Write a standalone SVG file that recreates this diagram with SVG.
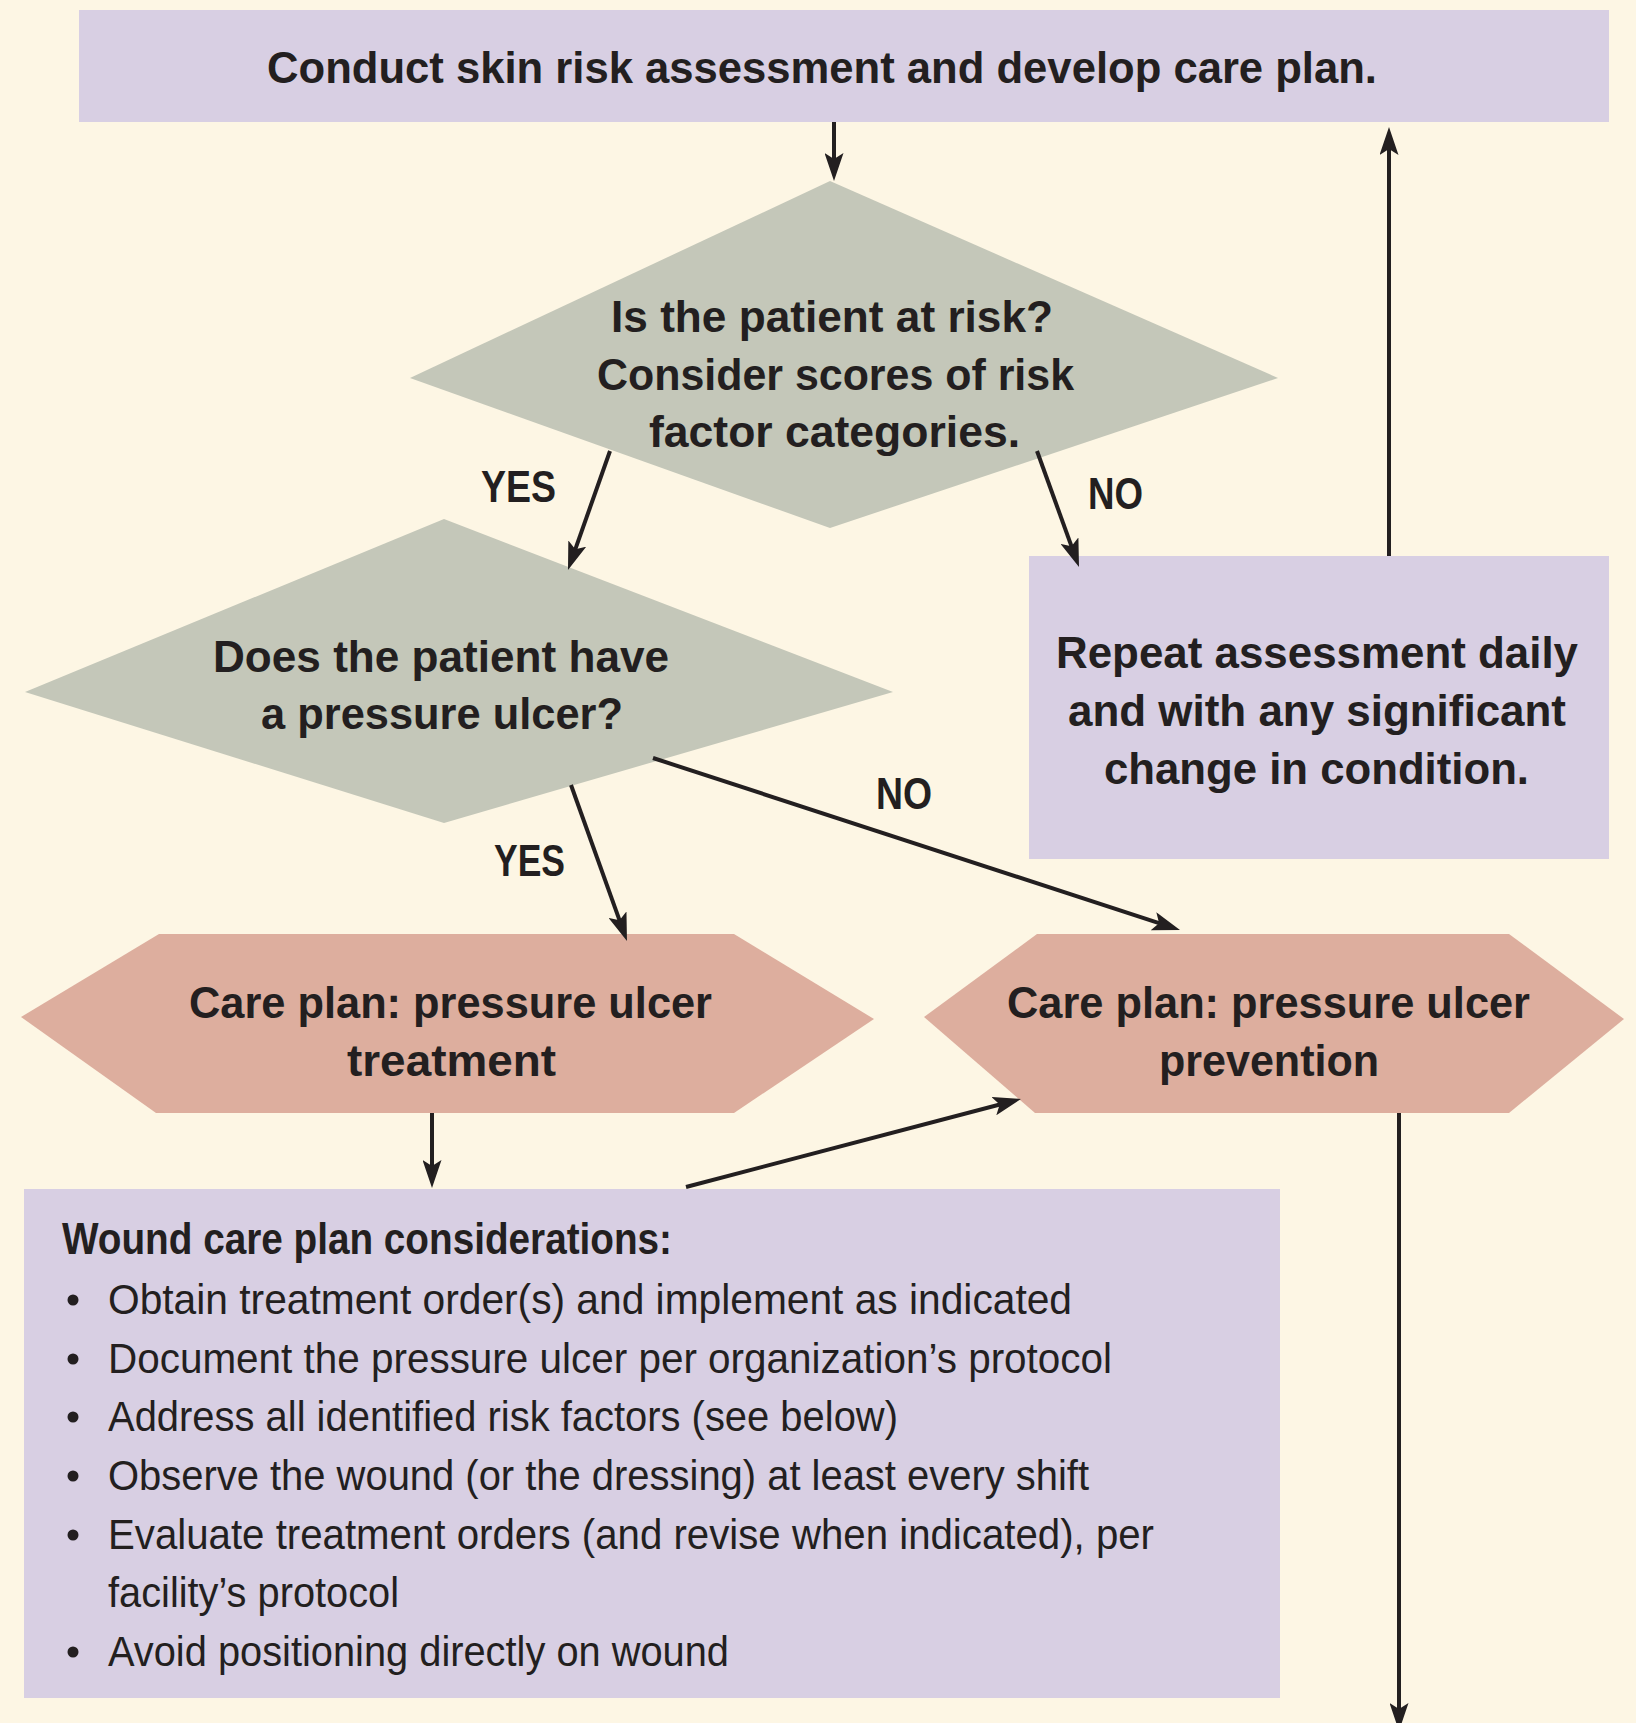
<svg xmlns="http://www.w3.org/2000/svg" width="1636" height="1723" viewBox="0 0 1636 1723">
<defs>
<style>
.bg{fill:#FDF6E4}
.box{fill:#D8CFE3}
.dia{fill:#C4C7B9}
.hex{fill:#DDAE9E}
.h{font-family:"Liberation Sans Narrow","Liberation Sans",Arial,sans-serif;font-weight:bold;font-size:44px;fill:#231F20}
.b{font-family:"Liberation Sans Narrow","Liberation Sans",Arial,sans-serif;font-weight:normal;font-size:42px;fill:#231F20}
.c{stroke:#231F20;stroke-width:4;fill:none}
.dot{fill:#231F20}
</style>
<marker id="ah" viewBox="0 0 28 19" markerWidth="28" markerHeight="19" refX="18" refY="9.5" orient="auto" markerUnits="userSpaceOnUse">
<path d="M0,0 L28,9.5 L0,19 L6,9.5 Z" fill="#231F20"/>
</marker>
</defs>
<rect class="bg" x="0" y="0" width="1636" height="1723"/>

<g id="assess">
<rect class="box" x="79" y="10" width="1530" height="112"/>
<text class="h" x="267" y="83" font-size="46" textLength="1110" lengthAdjust="spacingAndGlyphs">Conduct skin risk assessment and develop care plan.</text>
</g>

<g id="at-risk">
<polygon class="dia" points="830,181 1278,378 830,528 410,378"/>
<text class="h" x="611" y="332" textLength="442" lengthAdjust="spacingAndGlyphs">Is the patient at risk?</text>
<text class="h" x="597" y="390" textLength="477" lengthAdjust="spacingAndGlyphs">Consider scores of risk</text>
<text class="h" x="649" y="447" textLength="371" lengthAdjust="spacingAndGlyphs">factor categories.</text>
</g>

<g id="has-ulcer">
<polygon class="dia" points="444,519 893,692 444,823 25,692"/>
<text class="h" x="213" y="672" textLength="456" lengthAdjust="spacingAndGlyphs">Does the patient have</text>
<text class="h" x="261" y="729" textLength="362" lengthAdjust="spacingAndGlyphs">a pressure ulcer?</text>
</g>

<g id="repeat">
<rect class="box" x="1029" y="556" width="580" height="303"/>
<text class="h" x="1056" y="668" textLength="522" lengthAdjust="spacingAndGlyphs">Repeat assessment daily</text>
<text class="h" x="1068" y="726" textLength="498" lengthAdjust="spacingAndGlyphs">and with any significant</text>
<text class="h" x="1104" y="784" textLength="425" lengthAdjust="spacingAndGlyphs">change in condition.</text>
</g>

<g id="treatment">
<polygon class="hex" points="159,934 734,934 874,1019 734,1113 156,1113 21,1017"/>
<text class="h" x="189" y="1018" textLength="523" lengthAdjust="spacingAndGlyphs">Care plan: pressure ulcer</text>
<text class="h" x="347" y="1076" textLength="209" lengthAdjust="spacingAndGlyphs">treatment</text>
</g>

<g id="prevention">
<polygon class="hex" points="1037,934 1509,934 1624,1019 1509,1113 1035,1113 924,1017"/>
<text class="h" x="1007" y="1018" textLength="523" lengthAdjust="spacingAndGlyphs">Care plan: pressure ulcer</text>
<text class="h" x="1159" y="1076" textLength="220" lengthAdjust="spacingAndGlyphs">prevention</text>
</g>

<g id="wound-care">
<rect class="box" x="24" y="1189" width="1256" height="509"/>
<text class="h" x="62" y="1254" font-size="40" textLength="610" lengthAdjust="spacingAndGlyphs">Wound care plan considerations:</text>
<circle class="dot" cx="73" cy="1300" r="5.5"/>
<text class="b" x="108" y="1314" textLength="964" lengthAdjust="spacingAndGlyphs">Obtain treatment order(s) and implement as indicated</text>
<circle class="dot" cx="73" cy="1359" r="5.5"/>
<text class="b" x="108" y="1373" textLength="1004" lengthAdjust="spacingAndGlyphs">Document the pressure ulcer per organization’s protocol</text>
<circle class="dot" cx="73" cy="1417" r="5.5"/>
<text class="b" x="108" y="1431" textLength="790" lengthAdjust="spacingAndGlyphs">Address all identified risk factors (see below)</text>
<circle class="dot" cx="73" cy="1476" r="5.5"/>
<text class="b" x="108" y="1490" textLength="981" lengthAdjust="spacingAndGlyphs">Observe the wound (or the dressing) at least every shift</text>
<circle class="dot" cx="73" cy="1535" r="5.5"/>
<text class="b" x="108" y="1549" textLength="1046" lengthAdjust="spacingAndGlyphs">Evaluate treatment orders (and revise when indicated), per</text>
<text class="b" x="108" y="1607" textLength="291" lengthAdjust="spacingAndGlyphs">facility’s protocol</text>
<circle class="dot" cx="73" cy="1652" r="5.5"/>
<text class="b" x="108" y="1666" textLength="621" lengthAdjust="spacingAndGlyphs">Avoid positioning directly on wound</text>
</g>

<g id="connectors">
<line class="c" x1="834" y1="122" x2="834" y2="171" marker-end="url(#ah)"/>
<line class="c" x1="1389" y1="556" x2="1389" y2="137" marker-end="url(#ah)"/>
<line class="c" x1="1037" y1="451" x2="1075.6" y2="557.6" marker-end="url(#ah)"/>
<line class="c" x1="610" y1="451" x2="571.3" y2="560.6" marker-end="url(#ah)"/>
<line class="c" x1="571" y1="785" x2="623.6" y2="931.6" marker-end="url(#ah)"/>
<line class="c" x1="653" y1="758" x2="1170.5" y2="926.9" marker-end="url(#ah)"/>
<line class="c" x1="432" y1="1113" x2="432" y2="1178" marker-end="url(#ah)"/>
<line class="c" x1="686" y1="1187" x2="1011.3" y2="1101.5" marker-end="url(#ah)"/>
<line class="c" x1="1399" y1="1113" x2="1399" y2="1721" marker-end="url(#ah)"/>
<text class="h" x="481" y="502" textLength="75" lengthAdjust="spacingAndGlyphs">YES</text>
<text class="h" x="1088" y="509" textLength="55" lengthAdjust="spacingAndGlyphs">NO</text>
<text class="h" x="494" y="876" textLength="71" lengthAdjust="spacingAndGlyphs">YES</text>
<text class="h" x="876" y="809" textLength="56" lengthAdjust="spacingAndGlyphs">NO</text>
</g>
</svg>
